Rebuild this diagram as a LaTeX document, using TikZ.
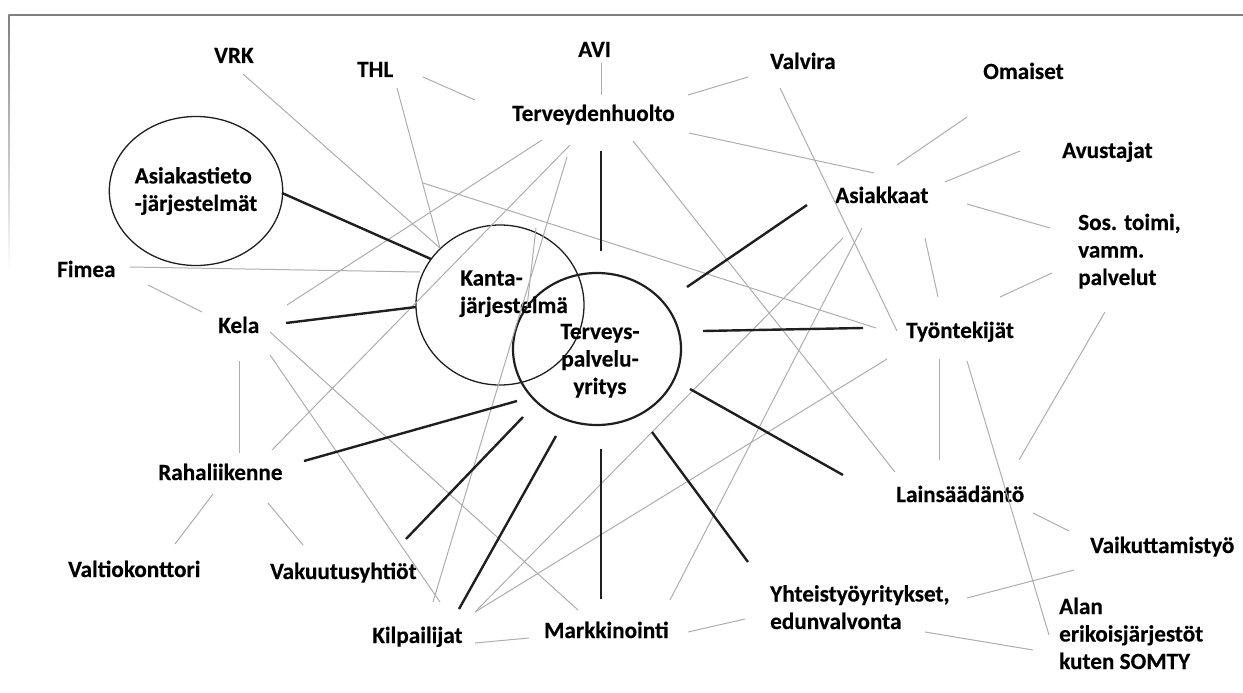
\documentclass[tikz,border=0pt]{standalone}
\usepackage{fontspec}
\setmainfont{Carlito}[BoldFeatures={FakeBold=0.35}]
\usetikzlibrary{shapes.geometric}
\begin{document}
\begin{tikzpicture}[x=1pt,y=-1pt,
  lbl/.style={font=\fontsize{23.2}{27.5}\selectfont\bfseries, inner sep=0pt, anchor=base west, align=left},
  faint/.style={draw=black!32, line width=1pt},
  strong/.style={draw=black!88, line width=2.4pt},
  ring/.style={draw=black!88, ellipse, inner sep=0pt, line width=1.3pt},
]
\useasboundingbox (0,0) rectangle (1243,693);
% frame fragments
\draw[draw=black!50, line width=1.2pt] (9,15) -- (1243,15);
\shade[top color=black!50, bottom color=white] (8.4,15) rectangle (9.6,272);

% rings
\node[ring, minimum width=172pt, minimum height=149pt, align=left,
      font=\fontsize{23.2}{27.5}\selectfont\bfseries] (atj) at (196,191) {Asiakastieto\\-järjestelmät};
\node[ring, minimum width=168pt, minimum height=160pt] (kanta) at (500,305) {};
\node[ring, line width=2.2pt, minimum width=168pt, minimum height=152pt] (tpy) at (597,349) {};

% labels (multi-line labels sit on the baseline of their last line)
\node[lbl] (kantaT) at (460,313) {Kanta-\\järjestelmä};
\node[lbl, align=center, anchor=base] (tpyT) at (600,394) {Terveys-\\palvelu-\\yritys};
\node[lbl] (vrk) at (214,63) {VRK};
\node[lbl] (thl) at (357,77) {THL};
\node[lbl] (avi) at (578,57) {AVI};
\node[lbl] (valvira) at (770,69) {Valvira};
\node[lbl] (omaiset) at (983,79) {Omaiset};
\node[lbl] (avustajat) at (1062,158) {Avustajat};
\node[lbl] (tvh) at (512,121) {Terveydenhuolto};
\node[lbl] (asiakkaat) at (835,203) {Asiakkaat};
\node[lbl] (sos) at (1078,285) {Sos. toimi,\\vamm.\\palvelut};
\node[lbl] (tyo) at (906,338) {Työntekijät};
\node[lbl] (fimea) at (57,277) {Fimea};
\node[lbl] (kela) at (218,333) {Kela};
\node[lbl] (raha) at (158,480) {Rahaliikenne};
\node[lbl] (valtio) at (68,577) {Valtiokonttori};
\node[lbl] (vak) at (270,579) {Vakuutusyhtiöt};
\node[lbl] (kilp) at (372,643) {Kilpailijat};
\node[lbl] (mark) at (544,638) {Markkinointi};
\node[lbl] (yht) at (770,629) {Yhteistyöyritykset,\\edunvalvonta};
\node[lbl] (lain) at (896,502) {Lainsäädäntö};
\node[lbl] (vaik) at (1090,553) {Vaikuttamistyö};
\node[lbl] (alan) at (1059,669) {Alan\\erikoisjärjestöt\\kuten SOMTY};
\coordinate (loose) at (423,183);

% thin links
\draw[faint] ([shift={(29,11)}]vrk.base west) -- ([shift={(-60,-57)}]kanta.center);
\draw[faint] ([shift={(40,11)}]thl.base west) -- ([shift={(-60,-57)}]kanta.center);
\draw[faint] ([shift={(66,0)}]thl.base west) -- ([shift={(-37,-21)}]tvh.base west);
\draw[faint] ([shift={(23,6)}]avi.base west) -- ([shift={(89,-26)}]tvh.base west);
\draw[faint] ([shift={(-22,8)}]valvira.base west) -- ([shift={(176,-26)}]tvh.base west);
\draw[faint] ([shift={(10,19)}]valvira.base west) -- ([shift={(-9,-7)}]tyo.base west);
\draw[faint] ([shift={(177,12)}]tvh.base west) -- ([shift={(39,-30)}]asiakkaat.base west);
\draw[faint] ([shift={(-16,38)}]omaiset.base west) -- ([shift={(62,-38)}]asiakkaat.base west);
\draw[faint] ([shift={(-42,-7)}]avustajat.base west) -- ([shift={(110,-21)}]asiakkaat.base west);
\draw[faint] ([shift={(132,1)}]asiakkaat.base west) -- ([shift={(-28,-57)}]sos.base west);
\draw[faint] ([shift={(90,35)}]asiakkaat.base west) -- ([shift={(32,-41)}]tyo.base west);
\draw[faint] ([shift={(-26,-12)}]sos.base west) -- ([shift={(94,-41)}]tyo.base west);
\draw[faint] ([shift={(27,27)}]sos.base west) -- ([shift={(123,-42)}]lain.base west);
\draw[faint] ([shift={(33,21)}]tyo.base west) -- ([shift={(43,-42)}]lain.base west);
\draw[faint] ([shift={(61,23)}]tyo.base west) -- ([shift={(-10,-34)}]alan.base west);
\draw[faint] ([shift={(137,11)}]lain.base west) -- ([shift={(-21,-22)}]vaik.base west);
\draw[faint] ([shift={(-16,17)}]vaik.base west) -- ([shift={(197,-31)}]yht.base west);
\draw[faint] ([shift={(155,3)}]yht.base west) -- ([shift={(-26,-19)}]alan.base west);
\draw[faint] ([shift={(144,-6)}]mark.base west) -- ([shift={(-25,-10)}]yht.base west);
\draw[faint] ([shift={(103,0)}]kilp.base west) -- ([shift={(-15,0)}]mark.base west);
\draw[faint] ([shift={(103,-31)}]kilp.base west) -- ([shift={(8,35)}]asiakkaat.base west);
\draw[faint] ([shift={(103,-31)}]kilp.base west) -- ([shift={(-19,21)}]tyo.base west);
\draw[faint] ([shift={(55,36)}]tvh.base west) -- ([shift={(61,-41)}]kilp.base west);
\draw[faint] ([shift={(30,19)}]tvh.base west) -- ([shift={(69,-28)}]kela.base west);
\draw[faint] ([shift={(58,24)}]tvh.base west) -- ([shift={(114,-30)}]raha.base west);
\draw[faint] ([shift={(121,20)}]tvh.base west) -- ([shift={(-1,-30)}]lain.base west);
\draw[faint] (loose) -- ([shift={(-30,-10)}]tyo.base west);
\draw[faint] ([shift={(27,25)}]asiakkaat.base west) -- ([shift={(126,-38)}]mark.base west);
\draw[faint] ([shift={(73,-10)}]fimea.base west) -- ([shift={(-80,-33)}]kanta.center);
\draw[faint] ([shift={(91,8)}]fimea.base west) -- ([shift={(-16,-21)}]kela.base west);
\draw[faint] ([shift={(21,28)}]kela.base west) -- ([shift={(81,-27)}]raha.base west);
\draw[faint] ([shift={(52,-1)}]kela.base west) -- ([shift={(34,-28)}]mark.base west);
\draw[faint] ([shift={(52,22)}]kela.base west) -- ([shift={(68,-41)}]kilp.base west);
\draw[faint] ([shift={(55,14)}]raha.base west) -- ([shift={(107,-33)}]valtio.base west);
\draw[faint] ([shift={(110,23)}]raha.base west) -- ([shift={(33,-34)}]vak.base west);
\draw[faint] ([shift={(36,-77)}]kanta.center) -- ([shift={(-70,-42)}]tpy.center);

% strong links from the company
\draw[strong] ([shift={(4,-98)}]tpy.center) -- ([shift={(89,30)}]tvh.base west);
\draw[strong] ([shift={(90,-62)}]tpy.center) -- ([shift={(-28,2)}]asiakkaat.base west);
\draw[strong] ([shift={(106,-18)}]tpy.center) -- ([shift={(-43,-10)}]tyo.base west);
\draw[strong] ([shift={(93,40)}]tpy.center) -- ([shift={(-53,-27)}]lain.base west);
\draw[strong] ([shift={(55,83)}]tpy.center) -- ([shift={(-22,-67)}]yht.base west);
\draw[strong] ([shift={(4,100)}]tpy.center) -- ([shift={(57,-39)}]mark.base west);
\draw[strong] ([shift={(-41,87)}]tpy.center) -- ([shift={(87,-34)}]kilp.base west);
\draw[strong] ([shift={(-74,68)}]tpy.center) -- ([shift={(136,-40)}]vak.base west);
\draw[strong] ([shift={(-80,52)}]tpy.center) -- ([shift={(146,-19)}]raha.base west);
\draw[strong] ([shift={(-84,2)}]kanta.center) -- ([shift={(68,-10)}]kela.base west);
\draw[strong] ([shift={(-69,-46)}]kanta.center) -- ([shift={(86,2)}]atj.center);
\end{tikzpicture}
\end{document}
